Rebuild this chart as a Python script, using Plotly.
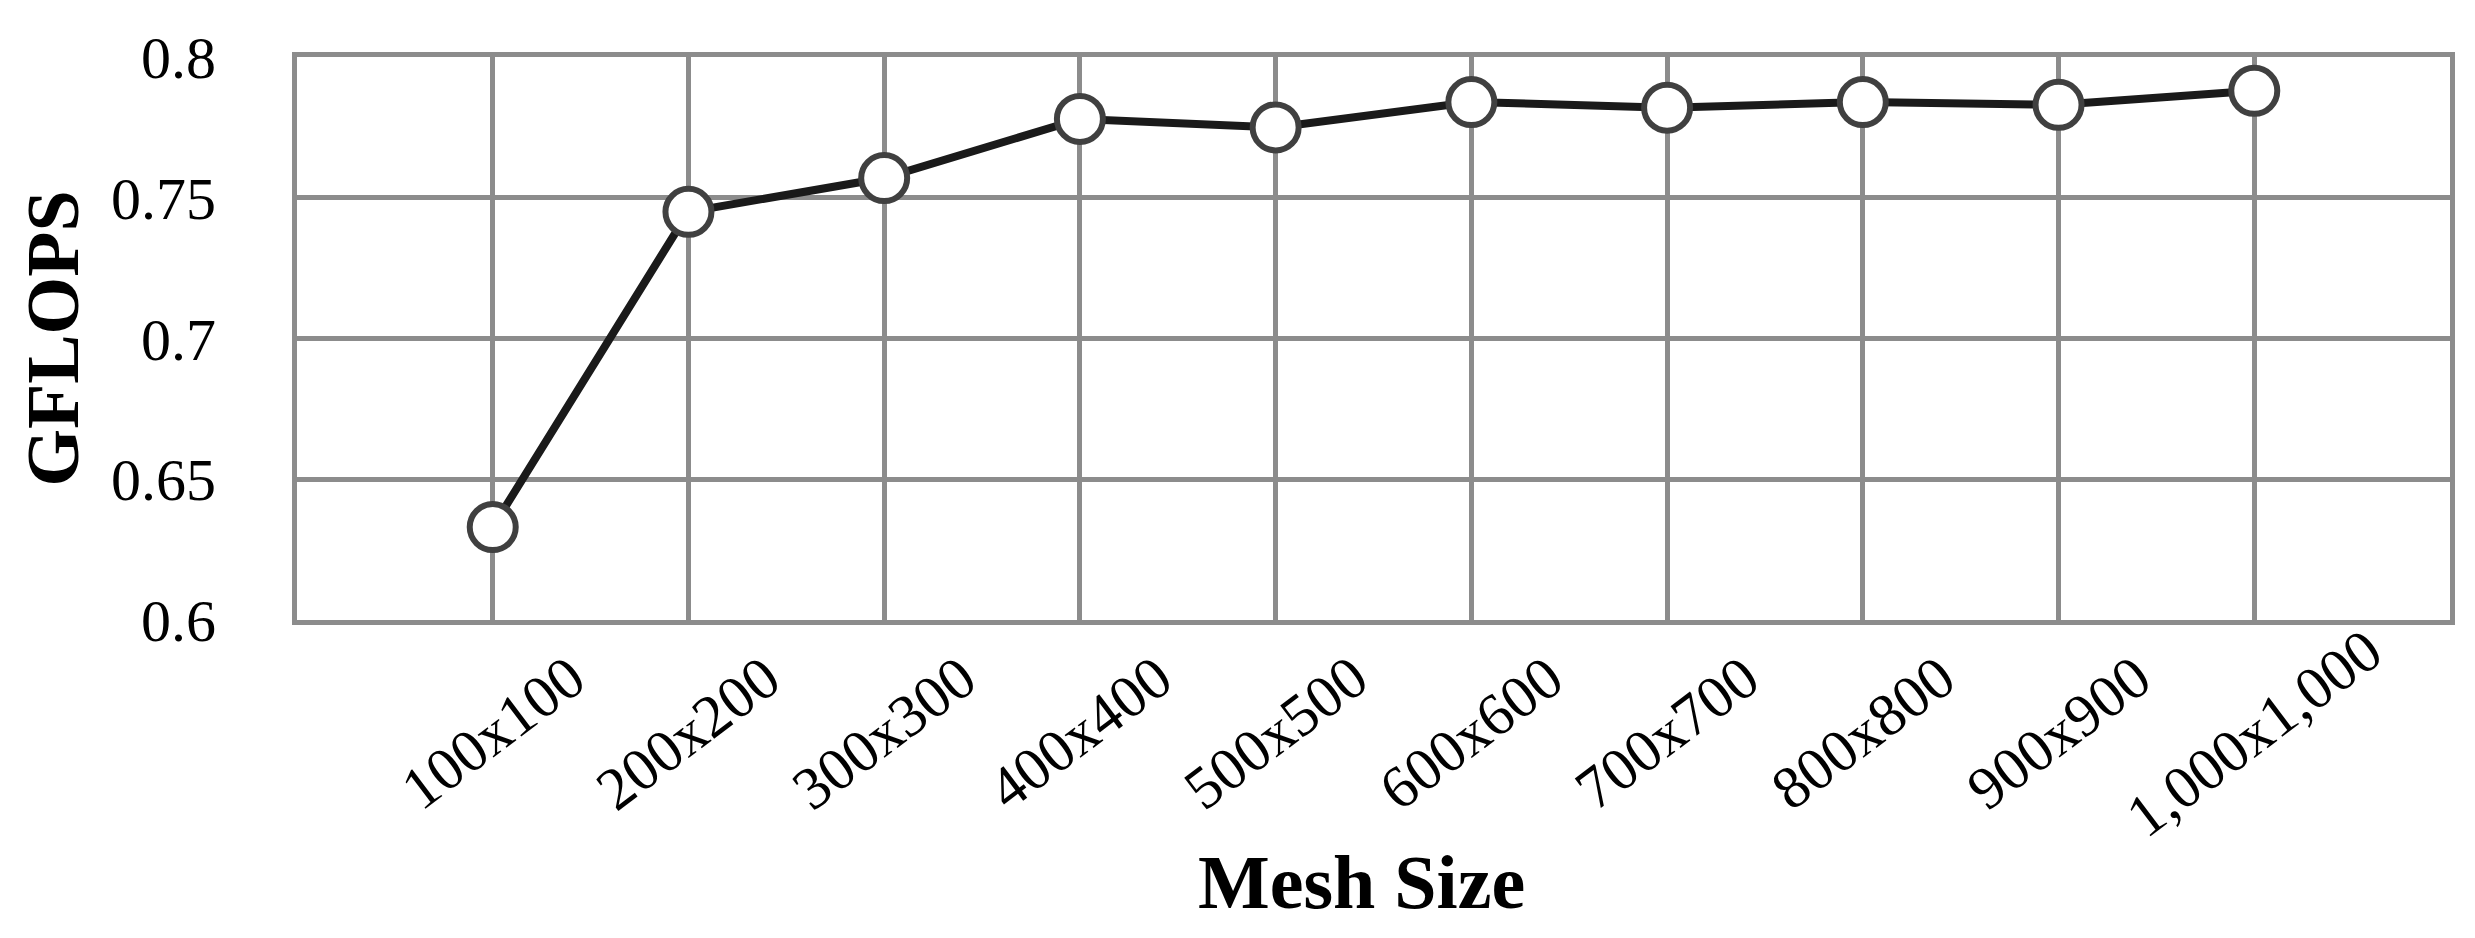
"""GFLOPS vs mesh size line chart."""

import plotly.graph_objects as go

mesh_sizes = ['100x100', '200x200', '300x300', '400x400', '500x500',
              '600x600', '700x700', '800x800', '900x900', '1,000x1,000']
gflops = [0.633, 0.745, 0.757, 0.778, 0.775, 0.784, 0.782, 0.784, 0.783, 0.788]
y_ticks = [0.6, 0.65, 0.7, 0.75, 0.8]
y_tick_labels = ['0.6', '0.65', '0.7', '0.75', '0.8']

FONT = 'Liberation Serif'
GRID = '#8c8c8c'

xs = list(range(len(mesh_sizes)))

fig = go.Figure()
fig.add_trace(go.Scatter(
    x=xs, y=gflops, mode='lines+markers',
    line=dict(color='#1a1a1a', width=8),
    marker=dict(symbol='circle', size=46, color='white',
                line=dict(color='#404040', width=6)),
    showlegend=False, cliponaxis=False,
))

# rotated category labels, centred on each tick like the original
for x, label in zip(xs, mesh_sizes):
    fig.add_annotation(
        x=x, y=0, xref='x', yref='paper', yshift=-113,
        text=label, showarrow=False, textangle=-37,
        xanchor='center', yanchor='middle',
        font=dict(family=FONT, size=60, color='black'),
    )

fig.add_annotation(
    x=0.5, y=0, xref='paper', yref='paper', yshift=-262, xshift=-12,
    text='<b>Mesh Size</b>', showarrow=False,
    xanchor='center', yanchor='middle',
    font=dict(family=FONT, size=76, color='black'),
)
fig.add_annotation(
    x=0, y=0.5, xref='paper', yref='paper', xshift=-245,
    text='<b>GFLOPS</b>', showarrow=False, textangle=-90,
    xanchor='center', yanchor='middle',
    font=dict(family=FONT, size=74, color='black'),
)

# page body keeps its default 8px margin, so the figure is 16px smaller
fig.update_layout(
    width=2459, height=922,
    margin=dict(l=289, r=17, t=49, b=310),
    plot_bgcolor='white', paper_bgcolor='white',
    xaxis=dict(
        range=[-1, 10], tickvals=xs, showticklabels=False,
        showgrid=True, gridcolor=GRID, gridwidth=5,
        showline=True, linecolor=GRID, linewidth=5, mirror=True,
        zeroline=False, ticks='',
    ),
    yaxis=dict(
        range=[0.6, 0.8], tickvals=y_ticks, ticktext=y_tick_labels,
        showgrid=True, gridcolor=GRID, gridwidth=5,
        showline=True, linecolor=GRID, linewidth=5, mirror=True,
        zeroline=False, ticks='', ticklabelstandoff=64,
        tickfont=dict(family=FONT, size=60, color='black'),
    ),
)

fig.write_html("out.html")
